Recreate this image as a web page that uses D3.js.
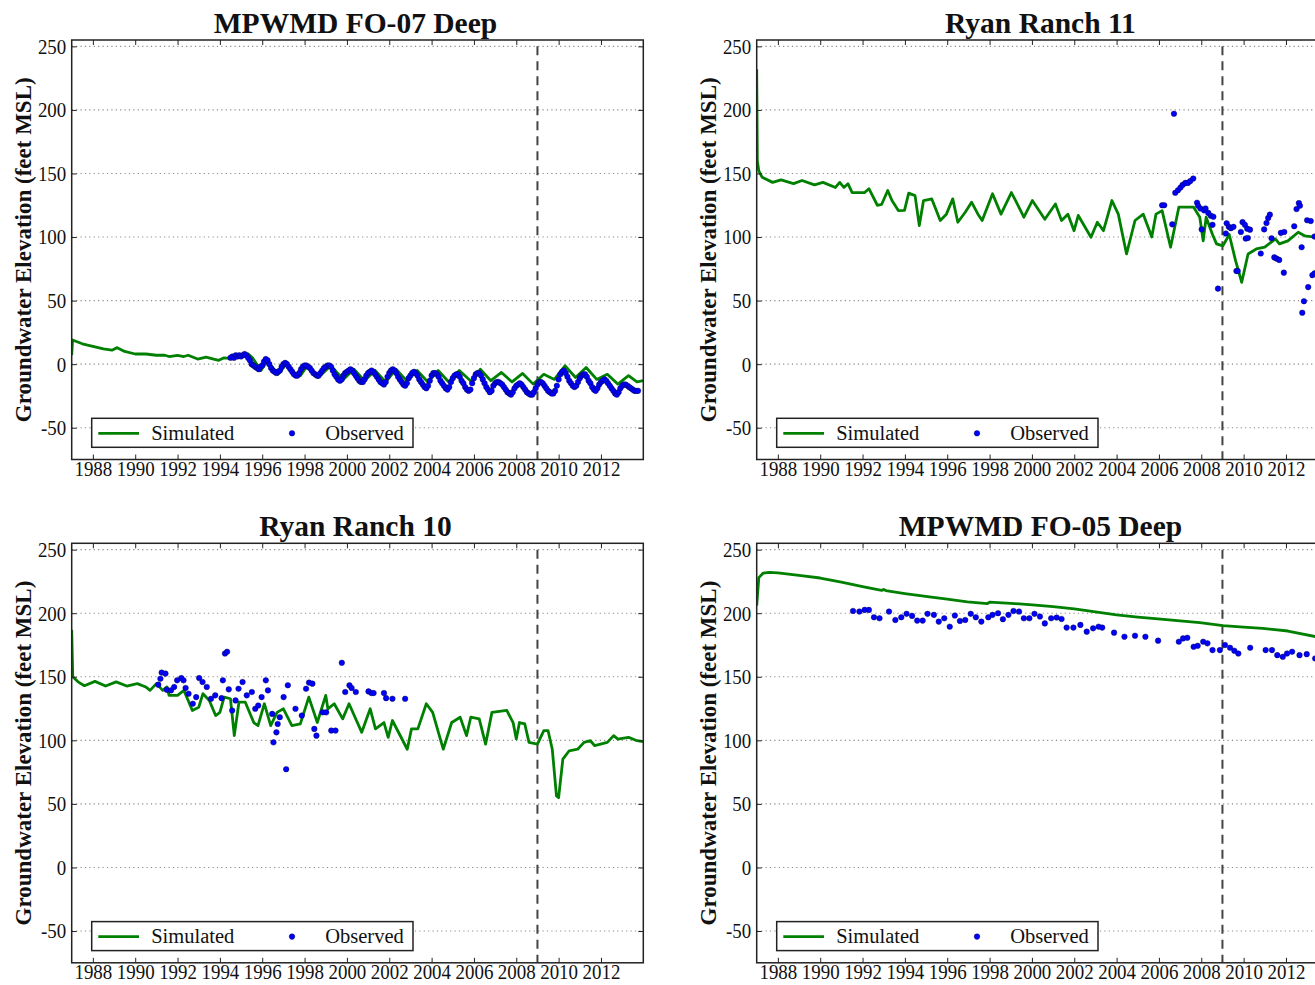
<!DOCTYPE html>
<html><head><meta charset="utf-8">
<script src="https://cdn.jsdelivr.net/npm/d3@7"></script>
<style>
body{margin:0;background:#fff;}
svg{display:block;}
text{font-family:"Liberation Serif","Times New Roman",serif;fill:#111;}
</style>
</head><body>
<svg id="chart" width="1315" height="985"></svg>
<script>
// ---------------- data ----------------
const panelTitles = ["MPWMD FO-07 Deep", "Ryan Ranch 11", "Ryan Ranch 10", "MPWMD FO-05 Deep"];
const yearTicks = [1988,1990,1992,1994,1996,1998,2000,2002,2004,2006,2008,2010,2012];
const elevTicks = [250,200,150,100,50,0,-50];
const xDomain = [1987, 2014];
const yDomain = [-75, 255];
const calibrationYear = 2009.0;
const calibrationTop = 250;
const yLabel = "Groundwater Elevation (feet MSL)";
const legendLabels = ["Simulated", "Observed"];

// Simulated [decimal year, elevation]
const fo07Sim = [[1987.0,7],[1987.04,19],[1987.5,16],[1988.0,14],[1988.5,12],[1988.9,11],[1989.15,13],[1989.5,10],[1990.0,8],[1990.5,8],[1991.0,7],[1991.4,7],[1991.6,6],[1992.0,7],[1992.3,6],[1992.5,7],[1992.95,4],[1993.35,5.5],[1993.7,4],[1993.95,3],[1994.2,5],[1994.45,4.5],[1994.75,6],[1995.34,8],[1995.54,5],[1995.94,-5],[1996.24,2.6],[1996.74,-8],[1997.14,0],[1997.54,-8],[1997.8,-9],[1998.14,-1],[1998.64,-10.5],[1999.24,-1.3],[1999.83,-12],[2000.33,-4],[2000.83,-13],[2001.33,-5],[2001.83,-14],[2002.32,-4],[2002.82,-13],[2003.32,-5],[2003.82,-14],[2004.31,-5],[2004.81,-14],[2005.31,-5],[2005.9,-14],[2006.3,-4],[2006.8,-13],[2007.3,-6.5],[2007.8,-14],[2008.3,-7.3],[2008.8,-15.7],[2009.3,-8],[2009.8,-12],[2010.3,-1.3],[2010.8,-10.5],[2011.3,-2.6],[2011.8,-12],[2012.3,-8],[2012.8,-15.7],[2013.3,-9],[2013.7,-14],[2014.0,-13]];

const rr11Sim = [[1987.0,232],[1987.03,160],[1987.1,152],[1987.26,147],[1987.75,143],[1988.15,145],[1988.74,142],[1989.14,144.5],[1989.73,141],[1990.13,143],[1990.72,139],[1990.92,143],[1991.12,139],[1991.31,142],[1991.51,135],[1992.1,135],[1992.3,138],[1992.7,125],[1992.9,125.6],[1993.19,136.6],[1993.39,128.7],[1993.69,120.8],[1993.98,121],[1994.18,134.5],[1994.48,132.6],[1994.68,109],[1994.88,128.7],[1995.27,130],[1995.67,113],[1995.96,118],[1996.26,130],[1996.5,111.6],[1996.85,119.5],[1997.15,127.4],[1997.45,118],[1997.65,113],[1998.14,134],[1998.54,118],[1999.03,135],[1999.23,128.7],[1999.62,115.6],[2000.02,128.7],[2000.61,114],[2001.11,126],[2001.4,113],[2001.7,118],[2001.99,105],[2002.19,117],[2002.79,99.8],[2003.09,111.6],[2003.38,105],[2003.78,128.7],[2004.08,118],[2004.47,86.7],[2004.87,113],[2005.26,118],[2005.66,100],[2005.86,118],[2006.15,120.8],[2006.55,92],[2006.94,123.5],[2007.64,123.5],[2007.93,115.6],[2008.09,97],[2008.23,115.6],[2008.53,102],[2008.72,94.6],[2009.02,93],[2009.32,102],[2009.62,81.4],[2009.91,64.4],[2010.21,86.7],[2010.6,90.6],[2011.0,92],[2011.5,98.5],[2011.69,94.6],[2012.09,97],[2012.58,103.8],[2012.88,101],[2013.43,99.8],[2014.0,100]];

const rr10Sim = [[1987.0,187],[1987.05,150],[1987.3,146],[1987.6,143],[1988.1,146.4],[1988.6,142.7],[1989.1,146],[1989.6,142.7],[1990.1,144.6],[1990.5,142],[1990.7,139.3],[1991.0,144.6],[1991.3,139.3],[1991.5,142],[1991.6,135.4],[1992.0,135.4],[1992.3,139.3],[1992.7,123.5],[1993.0,126],[1993.2,136.7],[1993.5,131.4],[1993.8,119.5],[1994.0,122],[1994.2,134],[1994.5,132.7],[1994.68,103.7],[1994.9,130],[1995.2,130],[1995.6,114],[1995.8,111.6],[1996.1,128.8],[1996.4,111.6],[1996.7,122],[1997.0,124.8],[1997.4,111.6],[1997.8,113],[1998.2,134],[1998.6,114],[1999.0,135.4],[1999.1,124.8],[1999.4,128.8],[1999.8,116.9],[2000.1,128.8],[2000.7,106.3],[2001.1,124.8],[2001.35,109],[2001.75,114],[2001.95,102.4],[2002.15,115.6],[2002.85,93],[2003.05,109],[2003.35,109],[2003.75,128.8],[2004.05,122],[2004.55,93],[2004.95,114],[2005.35,118.2],[2005.65,103.7],[2005.85,118.2],[2006.25,116.9],[2006.55,97],[2006.85,122],[2007.55,123.5],[2007.85,114],[2008.0,101],[2008.15,114],[2008.4,113],[2008.6,98.4],[2009.0,97],[2009.3,107.7],[2009.5,107.7],[2009.7,93],[2009.9,56.2],[2010.0,54.9],[2010.2,85.2],[2010.5,91.8],[2010.9,93],[2011.2,98.4],[2011.5,99.7],[2011.7,95.8],[2012.3,98.4],[2012.6,103.7],[2012.8,101],[2013.3,102.4],[2013.7,99.7],[2014.0,99]];

const fo05Sim = [[1987.0,206],[1987.1,228],[1987.3,231.5],[1987.6,232.2],[1988.0,231.7],[1989.0,229.8],[1990.0,227.7],[1991.0,224.5],[1992.0,221],[1992.9,218],[1993.0,218.7],[1993.1,217.8],[1994.0,215.5],[1995.07,213],[1996.0,211],[1996.95,209],[1997.9,207.5],[1998.0,208.8],[1999.0,207.8],[2000.02,206.6],[2001.0,205.2],[2002.0,203.4],[2003.0,201],[2004.0,198.7],[2005.0,197],[2005.95,195.5],[2007.0,194],[2007.93,192.6],[2009.02,190.2],[2010.0,189],[2010.9,188.1],[2012.09,186],[2013.43,181.5],[2014.0,180]];

// Observed: FO-07 monthly readings starting July 1994
const fo07ObsStart = 1994.5;
const fo07ObsMonthly = [
  5,6,5,7,6,7,
  6,7,8,7,5,3,0,-1,-2,-3,-4,-2,
  -1,2,4,3,0,-3,-5,-6,-7,-6,-5,-2,
  0,1,0,-2,-4,-6,-8,-9,-9,-7,-4,-2,
  -1,-1,-2,-3,-5,-7,-8,-9,-9,-7,-5,-3,
  -2,-1,-1,-2,-5,-8,-10,-12,-13,-12,-9,-7,
  -6,-5,-4,-5,-7,-9,-11,-13,-14,-14,-12,-9,
  -7,-6,-5,-6,-8,-10,-12,-14,-15,-16,-14,-10,
  -7,-5,-4,-5,-7,-10,-12,-14,-16,-17,-15,-11,
  -9,-7,-6,-7,-9,-12,-14,-16,-18,-19,-17,-13,
  -9,-7,-7,-8,-10,-13,-15,-17,-19,-20,-18,-14,
  -11,-9,-8,-8,-10,-13,-15,-18,-20,-21,-20,-15,
  -11,-8,-7,-7,-9,-12,-15,-18,-20,-22,-21,-17,
  -15,-14,-14,-15,-16,-18,-20,-22,-23,-24,-22,-19,
  -17,-16,-15,-16,-18,-20,-22,-23,-24,-24,-22,-19,
  -16,-14,-14,-15,-17,-19,-21,-22,-23,-23,-21,-17,
  -12,-8,-6,-5,-7,-10,-13,-15,-17,-18,-17,-14,
  -11,-9,-8,-8,-10,-13,-15,-18,-20,-21,-19,-16,
  -14,-13,-12,-13,-15,-17,-19,-21,-23,-24,-22,-19,
  -17,-16,-16,-17,-18,-19,-20,-21,-21,-21
];

const rr11Obs = [[2006.15,125],[2006.25,125],[2006.63,110],[2006.71,197],[2006.77,134.8],[2006.9,136.8],[2007.02,139],[2007.12,141],[2007.25,142.6],[2007.37,142.6],[2007.48,144],[2007.62,146],[2007.8,127],[2007.85,124.6],[2007.96,122.5],[2008.02,106],[2008.13,121],[2008.2,122.5],[2008.33,119],[2008.45,116.8],[2008.53,109.6],[2008.57,116],[2008.79,59.4],[2009.16,102.8],[2009.2,110.8],[2009.3,108],[2009.4,107],[2009.52,108],[2009.66,73.3],[2009.72,73.3],[2009.87,104],[2009.95,111.7],[2010.06,109.6],[2010.1,98.8],[2010.17,106.6],[2010.2,99.3],[2010.3,105.8],[2010.81,87],[2010.97,106],[2011.08,111],[2011.16,115],[2011.24,117.6],[2011.32,99],[2011.45,84],[2011.56,83],[2011.68,82],[2011.76,103.3],[2011.9,72],[2011.92,104],[2012.39,108.5],[2012.5,122],[2012.61,126.7],[2012.66,124.6],[2012.74,92],[2012.77,40.5],[2012.85,49.5],[2013.0,113.2],[2013.05,60.6],[2013.17,112.6],[2013.25,70],[2013.35,71.4],[2013.35,100.4]];

const rr10Obs = [[1991.09,143.8],[1991.19,148.5],[1991.25,153.3],[1991.43,152.5],[1991.49,139.8],[1991.69,139.3],[1991.84,142],[1991.98,147.2],[1992.18,149],[1992.28,147.2],[1992.38,141.2],[1992.52,136.7],[1992.72,128.8],[1992.88,134],[1993.02,149],[1993.18,145.9],[1993.38,142],[1993.58,132.7],[1993.78,135.4],[1994.08,133.2],[1994.14,147.2],[1994.24,168.3],[1994.34,169.7],[1994.42,140.1],[1994.58,123.5],[1994.74,131.4],[1994.88,140.6],[1995.07,145.9],[1995.27,135.4],[1995.51,138],[1995.67,124.8],[1995.81,127.4],[1995.97,134],[1996.17,147.2],[1996.27,139.3],[1996.47,120.8],[1996.53,98.4],[1996.67,106.3],[1996.73,112.9],[1996.83,118.2],[1997.01,134],[1997.13,77.3],[1997.21,143.3],[1997.57,124.8],[1997.87,119.5],[1998.07,140.6],[1998.21,145.4],[1998.37,144.6],[1998.46,109],[1998.56,103.7],[1998.86,122],[1999.02,122],[1999.26,107.7],[1999.46,107.7],[1999.76,161],[1999.92,138],[2000.12,143.3],[2000.22,141.2],[2000.42,138],[2001.02,138.5],[2001.16,137.2],[2001.26,137.2],[2001.75,137.2],[2001.85,133.2],[2002.15,132.7],[2002.75,132.7]];

const fo05Obs = [[1991.55,201.8],[1991.85,201.3],[1992.1,202.6],[1992.3,202.6],[1992.54,196.8],[1992.8,196],[1993.25,201.3],[1993.55,194.7],[1993.83,196.8],[1994.08,199.5],[1994.34,197.9],[1994.58,194.2],[1994.84,194.2],[1995.07,199.5],[1995.37,198.7],[1995.6,193.4],[1995.86,196],[1996.12,189.4],[1996.36,198.2],[1996.6,193.9],[1996.85,194.7],[1997.11,199.5],[1997.35,196.8],[1997.61,193.4],[1997.94,196.8],[1998.14,198.7],[1998.4,200],[1998.63,195.3],[1998.89,198.7],[1999.13,201.8],[1999.39,201.3],[1999.62,196],[1999.88,196],[2000.12,199.5],[2000.38,197.4],[2000.61,192],[2000.91,196],[2001.17,196.6],[2001.4,195.5],[2001.64,188.7],[2001.96,188.7],[2002.29,190.8],[2002.59,185.5],[2002.89,188.1],[2003.15,189.4],[2003.32,188.7],[2003.88,184.7],[2004.37,181.5],[2004.87,182.3],[2005.36,181.5],[2005.96,178.4],[2006.94,177.6],[2007.14,180.2],[2007.34,180.7],[2007.64,173.6],[2007.83,174.4],[2008.09,177.6],[2008.29,176.3],[2008.53,171],[2008.88,171],[2009.12,175],[2009.36,172.8],[2009.56,170.5],[2009.75,168.3],[2010.31,172.8],[2011.04,171],[2011.34,171],[2011.59,167],[2011.85,165.7],[2012.05,168.3],[2012.29,169.7],[2012.64,167],[2012.98,167.8],[2013.38,164.4]];

// ---------------- drawing ----------------
const fo07Obs = fo07ObsMonthly.map((v, i) => [fo07ObsStart + i / 12, v]);
const panels = [
  {title: panelTitles[0], sim: fo07Sim, obs: fo07Obs, col: 0, row: 0},
  {title: panelTitles[1], sim: rr11Sim, obs: rr11Obs, col: 1, row: 0},
  {title: panelTitles[2], sim: rr10Sim, obs: rr10Obs, col: 0, row: 1},
  {title: panelTitles[3], sim: fo05Sim, obs: fo05Obs, col: 1, row: 1}
];

const svg = d3.select("#chart");
svg.append("rect").attr("width", 1315).attr("height", 985).attr("fill", "#fff");

const W = 571.6, H = 419.5;
const lefts = [71.7, 756.7], tops = [40, 543.3];
const green = "#008000", blue = "#0000ff";
const fmt = d => String(d);

panels.forEach((p, idx) => {
  const g = svg.append("g").attr("transform", `translate(${lefts[p.col]},${tops[p.row]})`);
  const x = d3.scaleLinear().domain(xDomain).range([0, W]);
  const y = d3.scaleLinear().domain(yDomain).range([H, 0]);

  const clipId = "clip" + idx;
  g.append("clipPath").attr("id", clipId).append("rect").attr("width", W).attr("height", H);

  // grid
  g.append("g").selectAll("line").data(elevTicks).join("line")
    .attr("x1", 0).attr("x2", W).attr("y1", d => y(d)).attr("y2", d => y(d))
    .attr("stroke", "#8a8a8a").attr("stroke-width", 1.1).attr("stroke-dasharray", "1.2,3.2");

  // calibration dashed line
  g.append("line").attr("x1", x(calibrationYear)).attr("x2", x(calibrationYear))
    .attr("y1", y(calibrationTop)).attr("y2", H)
    .attr("stroke", "#444").attr("stroke-width", 2).attr("stroke-dasharray", "9,6");

  const plot = g.append("g").attr("clip-path", `url(#${clipId})`);
  plot.append("path").datum(p.sim)
    .attr("d", d3.line().x(d => x(d[0])).y(d => y(d[1])))
    .attr("fill", "none").attr("stroke", green).attr("stroke-width", 2.8).attr("stroke-linejoin", "round");
  plot.append("g").selectAll("circle").data(p.obs).join("circle")
    .attr("cx", d => x(d[0])).attr("cy", d => y(d[1])).attr("r", 2.8)
    .attr("fill", blue).attr("stroke", "#000033").attr("stroke-width", 0.4);

  // axes
  const xb = g.append("g").attr("transform", `translate(0,${H})`)
    .call(d3.axisBottom(x).tickValues(yearTicks).tickFormat(fmt).tickSize(-5).tickSizeOuter(0).tickPadding(1));
  const xt = g.append("g").call(d3.axisTop(x).tickValues(yearTicks).tickFormat("").tickSize(-5).tickSizeOuter(0));
  const yl = g.append("g").call(d3.axisLeft(y).tickValues(elevTicks).tickFormat(fmt).tickSize(-5).tickSizeOuter(0).tickPadding(5.5));
  const yr = g.append("g").attr("transform", `translate(${W},0)`)
    .call(d3.axisRight(y).tickValues(elevTicks).tickFormat("").tickSize(-5).tickSizeOuter(0));
  [xb, xt, yl, yr].forEach(a => {
    a.select(".domain").remove();
    a.selectAll(".tick line").attr("stroke", "#222").attr("stroke-width", 1);
    a.selectAll(".tick text").attr("font-size", 21.5).attr("fill", "#111")
      .attr("font-family", '"Liberation Serif", serif')
      .attr("transform", "scale(0.88,1)");
  });
  yl.selectAll(".tick text").attr("x", -6.2);

  // frame
  g.append("rect").attr("width", W).attr("height", H).attr("fill", "none")
    .attr("stroke", "#222").attr("stroke-width", 1.5);

  // title
  g.append("text").attr("x", W / 2 - 2).attr("y", -7).attr("text-anchor", "middle")
    .attr("font-size", 29.5).attr("font-weight", "bold").text(p.title);

  // y label
  g.append("text").attr("transform", `translate(${-40.5},${H / 2}) rotate(-90)`)
    .attr("text-anchor", "middle").attr("font-size", 23).attr("font-weight", "bold").text(yLabel);

  // legend
  const lg = g.append("g").attr("transform", "translate(20,378.3)");
  lg.append("rect").attr("width", 321.3).attr("height", 29).attr("fill", "#fff")
    .attr("stroke", "#222").attr("stroke-width", 1.5);
  lg.append("line").attr("x1", 6.6).attr("x2", 47.3).attr("y1", 15).attr("y2", 15)
    .attr("stroke", green).attr("stroke-width", 2.8);
  lg.append("text").attr("x", 59.5).attr("y", 21.5).attr("font-size", 20.5).text(legendLabels[0]);
  lg.append("circle").attr("cx", 200.3).attr("cy", 15).attr("r", 2.8)
    .attr("fill", blue).attr("stroke", "#000033").attr("stroke-width", 0.4);
  lg.append("text").attr("x", 233.5).attr("y", 21.5).attr("font-size", 20.5).text(legendLabels[1]);
});
</script>
</body></html>
